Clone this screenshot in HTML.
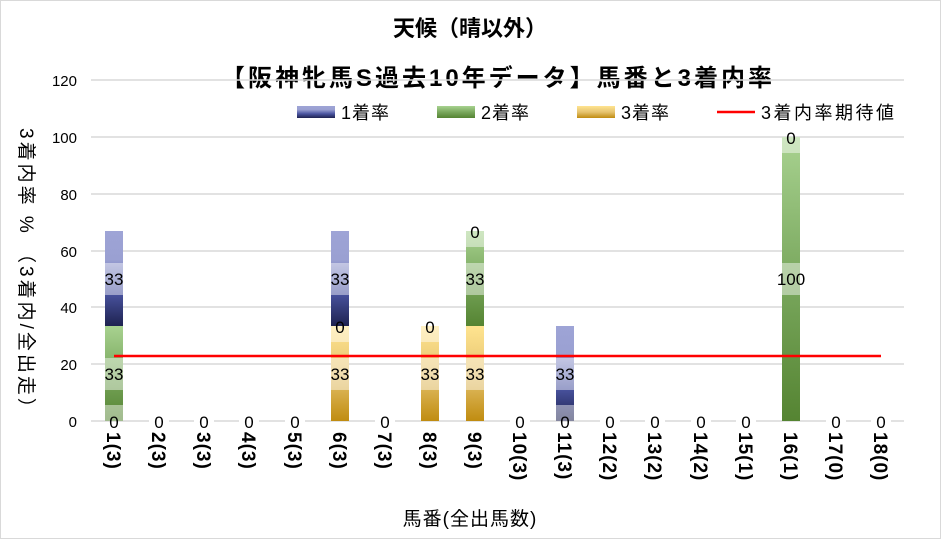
<!DOCTYPE html>
<html><head><meta charset="utf-8"><style>
body{margin:0;background:#fff}
svg text{font-family:"Liberation Sans","Noto Sans CJK JP",sans-serif}
</style></head><body>
<svg width="941" height="539" viewBox="0 0 941 539" xmlns="http://www.w3.org/2000/svg">
<defs>
<linearGradient id="gb" x1="0" y1="1" x2="0" y2="0"><stop offset="0" stop-color="#1e2250"/><stop offset="0.35" stop-color="#4a54a0"/><stop offset="0.7" stop-color="#9aa0d2"/><stop offset="1" stop-color="#9ea4d6"/></linearGradient>
<linearGradient id="gg" x1="0" y1="1" x2="0" y2="0"><stop offset="0" stop-color="#558432"/><stop offset="0.5" stop-color="#7aa85e"/><stop offset="1" stop-color="#a8d290"/></linearGradient>
<linearGradient id="gy" x1="0" y1="1" x2="0" y2="0"><stop offset="0" stop-color="#c08c10"/><stop offset="0.5" stop-color="#e6c470"/><stop offset="1" stop-color="#ffe490"/></linearGradient>
</defs>
<rect x="0.5" y="0.5" width="940" height="538" fill="#fff" stroke="#d9d9d9"/>
<text x="470" y="36" text-anchor="middle" font-size="22" font-weight="bold">天候（晴以外）</text>
<text x="498" y="86" text-anchor="middle" font-size="24" font-weight="bold" letter-spacing="3">【阪神牝馬S過去10年データ】馬番と3着内率</text>
<g stroke="#d9d9d9" stroke-width="1.5">
<line x1="91" y1="80" x2="904" y2="80"/><line x1="91" y1="137" x2="904" y2="137"/><line x1="91" y1="194" x2="904" y2="194"/><line x1="91" y1="251" x2="904" y2="251"/><line x1="91" y1="307" x2="904" y2="307"/><line x1="91" y1="364" x2="904" y2="364"/><line x1="91" y1="421" x2="904" y2="421"/>
</g>
<g font-size="15" text-anchor="end" fill="#000">
<text x="77" y="86">120</text><text x="77" y="143">100</text><text x="77" y="200">80</text><text x="77" y="257">60</text><text x="77" y="313">40</text><text x="77" y="370">20</text><text x="77" y="427">0</text>
</g>
<!-- legend -->
<rect x="297" y="106" width="38" height="12" fill="url(#gb)"/><text x="341" y="119" font-size="18" letter-spacing="1">1着率</text>
<rect x="437" y="106" width="38" height="12" fill="url(#gg)"/><text x="481" y="119" font-size="18" letter-spacing="1">2着率</text>
<rect x="577" y="106" width="38" height="12" fill="url(#gy)"/><text x="621" y="119" font-size="18" letter-spacing="1">3着率</text>
<line x1="717" y1="112" x2="755" y2="112" stroke="#f00" stroke-width="2.5"/><text x="761" y="119" font-size="18" letter-spacing="2.5">3着内率期待値</text>
<!-- bars -->
<rect x="105" y="326" width="18" height="95" fill="url(#gg)"/>
<rect x="105" y="231" width="18" height="95" fill="url(#gb)"/>
<rect x="331" y="326" width="18" height="95" fill="url(#gy)"/>
<rect x="331" y="231" width="18" height="95" fill="url(#gb)"/>
<rect x="421" y="326" width="18" height="95" fill="url(#gy)"/>
<rect x="466" y="326" width="18" height="95" fill="url(#gy)"/>
<rect x="466" y="231" width="18" height="95" fill="url(#gg)"/>
<rect x="556" y="326" width="18" height="95" fill="url(#gb)"/>
<rect x="782" y="137" width="18" height="284" fill="url(#gg)"/>
<!-- label boxes -->
<g fill="#fff" fill-opacity="0.45">
<rect x="105" y="263" width="18" height="32"/><rect x="105" y="358" width="18" height="32"/><rect x="105" y="405" width="18" height="16"/>
<rect x="331" y="263" width="18" height="32"/><rect x="331" y="358" width="18" height="32"/><rect x="331" y="326" width="18" height="16"/>
<rect x="421" y="358" width="18" height="32"/><rect x="421" y="326" width="18" height="16"/>
<rect x="466" y="358" width="18" height="32"/><rect x="466" y="263" width="18" height="32"/><rect x="466" y="231" width="18" height="16"/>
<rect x="556" y="358" width="18" height="32"/><rect x="556" y="405" width="18" height="16"/>
<rect x="782" y="263" width="18" height="32"/><rect x="782" y="137" width="18" height="16"/>
</g>
<g fill="#fff">
<rect x="149" y="414" width="20" height="14"/><rect x="194" y="414" width="20" height="14"/><rect x="239" y="414" width="20" height="14"/><rect x="285" y="414" width="20" height="14"/><rect x="375" y="414" width="20" height="14"/><rect x="510" y="414" width="20" height="14"/><rect x="600" y="414" width="20" height="14"/><rect x="645" y="414" width="20" height="14"/><rect x="691" y="414" width="20" height="14"/><rect x="736" y="414" width="20" height="14"/><rect x="826" y="414" width="20" height="14"/><rect x="871" y="414" width="20" height="14"/>
</g>
<line x1="114" y1="356" x2="881" y2="356" stroke="#f00" stroke-width="2.5"/>
<g font-size="17" text-anchor="middle" fill="#000">
<text x="114" y="285">33</text><text x="114" y="380">33</text><text x="114" y="428">0</text>
<text x="340" y="285">33</text><text x="340" y="380">33</text><text x="340" y="333">0</text>
<text x="430" y="380">33</text><text x="430" y="333">0</text>
<text x="475" y="380">33</text><text x="475" y="285">33</text><text x="475" y="238">0</text>
<text x="565" y="380">33</text><text x="565" y="428">0</text>
<text x="791" y="285">100</text><text x="791" y="144">0</text>
<text x="159" y="428">0</text><text x="204" y="428">0</text><text x="249" y="428">0</text><text x="295" y="428">0</text><text x="385" y="428">0</text><text x="520" y="428">0</text><text x="610" y="428">0</text><text x="655" y="428">0</text><text x="701" y="428">0</text><text x="746" y="428">0</text><text x="836" y="428">0</text><text x="881" y="428">0</text>
</g>
<g font-size="19" font-weight="bold" fill="#000" letter-spacing="1">
<text transform="translate(107,432) rotate(90)">1(3)</text>
<text transform="translate(152,432) rotate(90)">2(3)</text>
<text transform="translate(197,432) rotate(90)">3(3)</text>
<text transform="translate(242,432) rotate(90)">4(3)</text>
<text transform="translate(288,432) rotate(90)">5(3)</text>
<text transform="translate(333,432) rotate(90)">6(3)</text>
<text transform="translate(378,432) rotate(90)">7(3)</text>
<text transform="translate(423,432) rotate(90)">8(3)</text>
<text transform="translate(468,432) rotate(90)">9(3)</text>
<text transform="translate(513,432) rotate(90)">10(3)</text>
<text transform="translate(558,432) rotate(90)">11(3)</text>
<text transform="translate(603,432) rotate(90)">12(2)</text>
<text transform="translate(648,432) rotate(90)">13(2)</text>
<text transform="translate(694,432) rotate(90)">14(2)</text>
<text transform="translate(739,432) rotate(90)">15(1)</text>
<text transform="translate(784,432) rotate(90)">16(1)</text>
<text transform="translate(829,432) rotate(90)">17(0)</text>
<text transform="translate(874,432) rotate(90)">18(0)</text>
</g>
<text x="470" y="525" text-anchor="middle" font-size="19" letter-spacing="1">馬番(全出馬数)</text>
<text transform="translate(20,128) rotate(90)" font-size="19" letter-spacing="3">3着内率 %  （3着内/全出走）</text>
</svg>
</body></html>
